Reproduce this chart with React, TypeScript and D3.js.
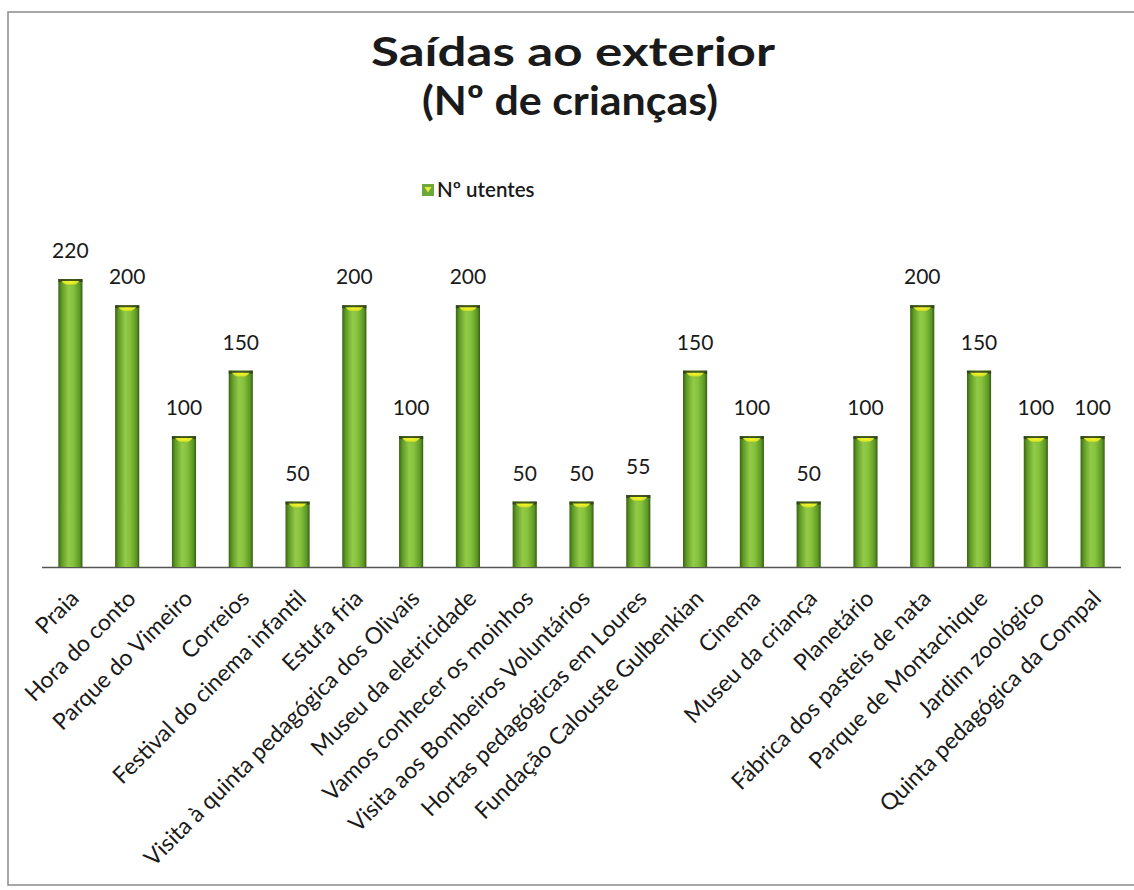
import React from "react";
import * as d3 from "d3";

const categories = [
  "Praia",
  "Hora do conto",
  "Parque do Vimeiro",
  "Correios",
  "Festival do cinema infantil",
  "Estufa fria",
  "Visita à quinta pedagógica dos Olivais",
  "Museu da eletricidade",
  "Vamos conhecer os moinhos",
  "Visita aos Bombeiros Voluntários",
  "Hortas pedagógicas em Loures",
  "Fundação Calouste Gulbenkian",
  "Cinema",
  "Museu da criança",
  "Planetário",
  "Fábrica dos pasteis de nata",
  "Parque de Montachique",
  "Jardim zoológico",
  "Quinta pedagógica da Compal",
];
const values = [220, 200, 100, 150, 50, 200, 100, 200, 50, 50, 55, 150, 100, 50, 100, 200, 150, 100, 100];
const seriesName = "Nº utentes";
const titleLines = ["Saídas ao exterior", "(Nº de crianças)"];

const W = 1134;
const H = 890;
const FONT = "Lato, 'Open Sans', sans-serif";

export default function App() {
  const x = d3.scaleBand<string>().domain(categories).range([42, 1121]).paddingInner(0.575).paddingOuter(0.2875);
  const y = d3.scaleLinear().domain([0, 220]).range([567, 279]);
  const bw = x.bandwidth();

  return (
    <svg width={W} height={H} style={{ position: "absolute", left: 0, top: 0, background: "#fff" }}>
      <defs>
        <linearGradient id="barGrad" x1="0" x2="1" y1="0" y2="0">
          <stop offset="0%" stopColor="#3a6414" />
          <stop offset="14%" stopColor="#5f9a26" />
          <stop offset="42%" stopColor="#93cb48" />
          <stop offset="62%" stopColor="#86c23c" />
          <stop offset="88%" stopColor="#5e9826" />
          <stop offset="100%" stopColor="#355d12" />
        </linearGradient>
        <radialGradient id="capGrad" cx="0.5" cy="0.2" r="0.7">
          <stop offset="0%" stopColor="#f6f626" />
          <stop offset="60%" stopColor="#d6e52a" />
          <stop offset="100%" stopColor="#8cc03a" />
        </radialGradient>
      </defs>
      <rect x={8} y={12} width={1140} height={873} fill="#fff" stroke="#8a8a8a" strokeWidth={1.5} />

      <text x={573} y={66} textAnchor="middle" fontFamily={FONT} fontWeight={700} fontSize={41}
        textLength={404} lengthAdjust="spacingAndGlyphs" fill="#1a1a1a">
        {titleLines[0]}
      </text>
      <text x={570} y={115} textAnchor="middle" fontFamily={FONT} fontWeight={700} fontSize={41}
        textLength={296} lengthAdjust="spacingAndGlyphs" fill="#1a1a1a">
        {titleLines[1]}
      </text>

      <g>
        <rect x={422} y={184} width={12} height={12} fill="#6ea83a" />
        <path d="M424.5,187 L431.5,187 L428,192.5 Z" fill="#e6f03a" />
        <text x={437} y={197} fontFamily={FONT} fontWeight={600} fontSize={20.5} fill="#1a1a1a">
          {seriesName}
        </text>
      </g>

      <line x1={42} x2={1121} y1={567.5} y2={567.5} stroke="#555" strokeWidth={1.5} />

      {categories.map((c, i) => {
        const x0 = x(c)!;
        const top = y(values[i]);
        const bottom = y(0);
        return (
          <g key={c}>
            <rect x={x0} y={top} width={bw} height={bottom - top} fill="url(#barGrad)" />
            <rect x={x0} y={top} width={bw} height={3} fill="#2f3a1a" opacity={0.8} />
            <path
              d={`M${x0 + 3},${top + 2} Q${x0 + bw / 2},${top + 12} ${x0 + bw - 3},${top + 2} Z`}
              fill="url(#capGrad)"
            />
            <text
              x={x0 + bw / 2}
              y={top - 21}
              textAnchor="middle"
              fontFamily={FONT}
              fontSize={21}
              fill="#1a1a1a"
            >
              {values[i]}
            </text>
            <text
              transform={`translate(${x0 + bw / 2 + 10},${600}) rotate(-45)`}
              textAnchor="end"
              fontFamily={FONT}
              fontSize={23}
              fill="#1a1a1a"
            >
              {c}
            </text>
          </g>
        );
      })}
    </svg>
  );
}
